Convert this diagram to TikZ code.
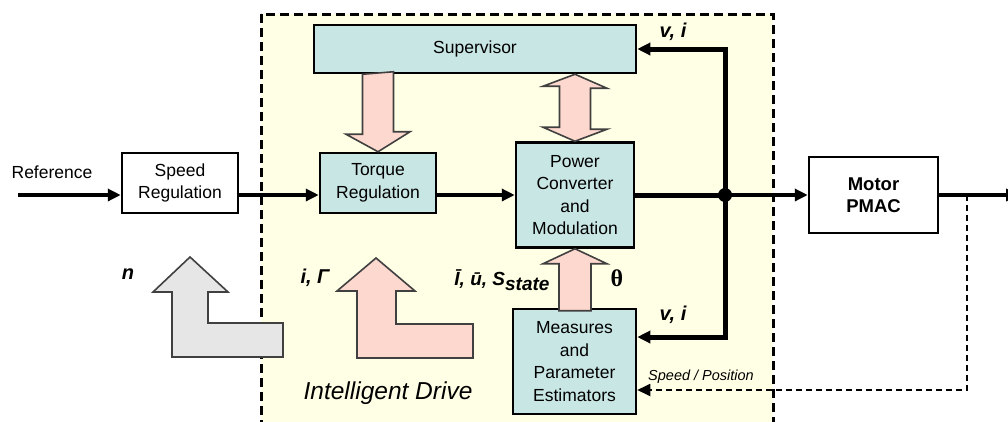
\documentclass[tikz,border=0pt]{standalone}
\usepackage{fontspec}
\setmainfont{Liberation Sans}
\newfontfamily\greekserif{Liberation Serif}
\usetikzlibrary{arrows.meta,positioning,calc}
\definecolor{drivebg}{HTML}{FFFFE6}
\definecolor{unitfill}{HTML}{C8E6E4}
\definecolor{fatpink}{HTML}{FDD8CE}
\definecolor{fatgrey}{HTML}{E6E6E6}

\begin{document}
\begin{tikzpicture}[x=1pt, y=-1pt, >={Triangle[length=13pt,width=12pt]},
  unit/.style={draw, line width=2.5pt, fill=unitfill, align=center, inner sep=0pt,
    font=\fontsize{17.5}{22.5}\selectfont},
  wunit/.style={unit, fill=white},
  sig/.style={line width=4pt},
  bus/.style={line width=5pt},
  fat/.style={draw=black!75, line width=1.6pt, fill=fatpink},
  lab/.style={font=\fontsize{20}{20}\selectfont\bfseries\itshape}]
\useasboundingbox (0,0) rectangle (1008,421);
% intelligent drive region
\fill[drivebg] (261,14) rectangle (773,440);
\draw[line width=3pt, dash pattern=on 9pt off 5pt] (261,14) rectangle (773,440);
%
\node[wunit, minimum width=116pt, minimum height=60pt]  (speed)  at (180,183)   {Speed\\Regulation};
\node[unit,  minimum width=116pt, minimum height=60pt]  (torque) at (378,183)   {Torque\\Regulation};
\node[unit,  minimum width=322pt, minimum height=48pt]  (sup)    at (475,49)    {Supervisor};
\node[unit,  minimum width=118pt, minimum height=105pt] (pc)     at (575,195)   {Power\\Converter\\and\\Modulation};
\node[unit,  minimum width=123pt, minimum height=105pt] (meas)   at (574.5,361.5) {Measures\\and\\Parameter\\Estimators};
\node[wunit, minimum width=129pt, minimum height=76pt,
  font=\fontsize{18.5}{22}\selectfont\bfseries]          (mot)    at (873.5,195) {Motor\\PMAC};
%
\coordinate (ref) at (18,195);
\coordinate (jn)  at (725,195);
\coordinate (tap) at (967,195);
\coordinate (out) at (1019,195);
%
\draw[sig,->] (ref) -- (speed.west |- ref);
\draw[sig,->] (speed.east |- pc.west) -- (torque.west |- pc.west);
\draw[sig,->] (torque.east |- pc.west) -- (pc.west);
\draw[bus] (pc.east) -- (jn);
\draw[sig,->] (jn) -- (mot.west);
\draw[bus,->] (jn) |- (sup.east);
\draw[bus,->] (jn) |- ([yshift=24.5pt]meas.east);
\draw[sig,->] (mot.east) -- (out);
\draw[line width=1.8pt, dash pattern=on 6pt off 4pt, ->] (tap) |- ([yshift=-28.5pt]meas.east);
\fill (jn) circle (7pt);
%
% fat arrows
\draw[fat] (torque.north |- sup.south) ++(-15.5,0) -- ++(0,60) -- ++(-16.5,0)
  -- (torque.north) -- ++(32,-20) -- ++(-16.5,0) -- ++(0,-60) -- cycle;
\draw[fat] (pc.north |- sup.south) -- ++(32,14) -- ++(-16.5,0) -- ++(0,41) -- ++(16.5,0)
  -- (pc.north) -- ++(-32,-14) -- ++(16.5,0) -- ++(0,-41) -- ++(-16.5,0) -- cycle;
\draw[fat] (pc.south) -- ++(32,15) -- ++(-16,0) -- ++(0,47) -- ++(-32,0) -- ++(0,-47)
  -- ++(-16,0) -- cycle;
\draw[fat] (376,258) -- (415,291) -- (396,291) -- (396,324) -- (473,324) -- (473,358)
  -- (357,358) -- (357,291) -- (337,291) -- cycle;
\draw[fat, fill=fatgrey] (190,257) -- (228,292) -- (208,292) -- (208,323) -- (283,323)
  -- (283,357) -- (172,357) -- (172,292) -- (153,292) -- cycle;
%
% labels
\node[font=\fontsize{17.5}{20}\selectfont] (reflab) at (52,172) {Reference};
\node[lab] (vitop) at (673,32)  {v, i};
\node[lab] (vibot) at (673,315) {v, i};
\node[lab] (nlab)  at (128,274) {n};
\node[lab] (ilab)  at (315,278) {i, Γ};
\node[lab, font=\fontsize{19}{19}\selectfont\bfseries\itshape, anchor=base east]
  (statelab) at (553,285) {Ī, ū, S\raisebox{-5pt}{state}};
\node[font=\fontsize{24}{24}\selectfont\greekserif\bfseries] (thlab) at (617,278) {θ};
\node[font=\fontsize{14.5}{16}\selectfont\itshape] (splab) at (701,377) {Speed / Position};
\node[font=\fontsize{24.5}{26}\selectfont\itshape] (idlab) at (388,393) {Intelligent Drive};
\end{tikzpicture}
\end{document}
